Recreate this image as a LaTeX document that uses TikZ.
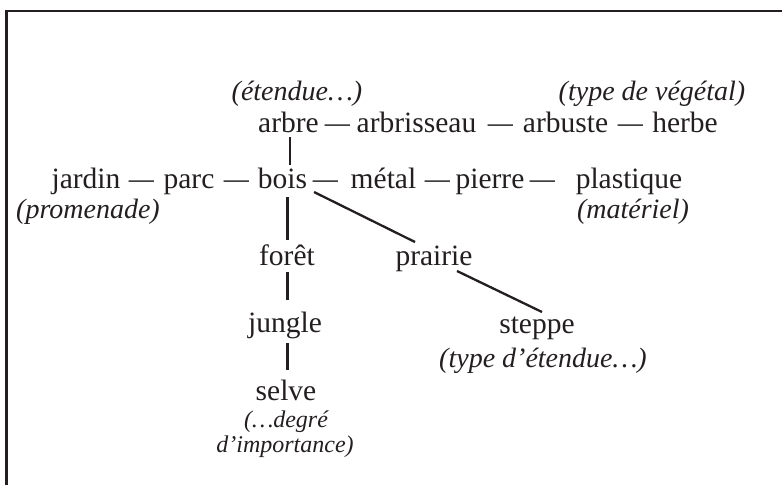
\documentclass[tikz,border=0pt]{standalone}
\usepackage{fontspec}
\setmainfont{Liberation Serif}
\usetikzlibrary{calc}
\definecolor{ink}{HTML}{231F20}
\tikzset{
  word/.style={anchor=base, inner sep=0pt, text=ink, font=\fontsize{29.5}{34}\selectfont},
  note/.style={anchor=base, inner sep=0pt, text=ink, font=\fontsize{28}{33}\selectfont\itshape},
  smallnote/.style={anchor=base, inner sep=0pt, text=ink, font=\fontsize{24}{28}\selectfont\itshape},
  link/.style={draw=ink, line width=2.3pt},
  frame/.style={draw=ink, line width=2.3pt}
}
\newcommand{\emd}{\scalebox{0.85}[1]{—}}
\begin{document}
\begin{tikzpicture}[x=1pt,y=-1pt]
\useasboundingbox (0,0) rectangle (782,485);
\draw[frame] (6.5,485) -- (6.5,11) -- (782,11);

% notes top
\node[note] (n1) at (297,100) {(étendue…)};
\node[note] (n2) at (652,100) {(type de végétal)};

% row 1
\node[word] (arbre) at (288.5,132) {arbre};
\node[word] (d1) at (337.5,132) {\emd};
\node[word] (arbrisseau) at (416.5,132) {arbrisseau};
\node[word] (d2) at (500.5,132) {\emd};
\node[word] (arbuste) at (565.5,132) {arbuste};
\node[word] (d3) at (630.5,132) {\emd};
\node[word] (herbe) at (685,132) {herbe};

% row 2
\node[word] (jardin) at (86,188) {jardin};
\node[word] (d4) at (141.5,188) {\emd};
\node[word] (parc) at (189,188) {parc};
\node[word] (d5) at (236.5,188) {\emd};
\node[word] (bois) at (282.5,188) {bois};
\node[word] (d6) at (325.5,188) {\emd};
\node[word] (metal) at (383.5,188) {métal};
\node[word] (d7) at (437.5,188) {\emd};
\node[word] (pierre) at (490,188) {pierre};
\node[word] (d8) at (542.5,188) {\emd};
\node[word] (plastique) at (629,188) {plastique};

\node[note] (n3) at (88,218) {(promenade)};
\node[note] (n4) at (633,218) {(matériel)};

% lower
\node[word] (foret) at (287,265) {forêt};
\node[word] (prairie) at (434,265) {prairie};
\node[word] (jungle) at (285,332) {jungle};
\node[word] (steppe) at (537,333) {steppe};
\node[note] (n5) at (543,367) {(type d’étendue…)};
\node[word] (selve) at (286,400) {selve};
\node[smallnote] (n6) at (286,427) {(…degré};
\node[smallnote] (n7) at (285,452) {d’importance)};

% connectors
\draw[link] ($(arbre.base)+(1.5,5)$) -- ($(bois.base)+(7.5,-23)$);
\draw[link] ($(bois.base)+(5,9)$) -- ($(foret.base)+(0.5,-25)$);
\draw[link] ($(bois.base)+(31.5,4)$) -- ($(prairie.base)+(-19,-23)$);
\draw[link] ($(prairie.base)+(23,6)$) -- ($(steppe.base)+(5,-21)$);
\draw[link] ($(foret.base)+(0.5,7)$) -- ($(jungle.base)+(2.5,-32)$);
\draw[link] ($(jungle.base)+(2.5,11)$) -- ($(selve.base)+(1.5,-30)$);
\end{tikzpicture}
\end{document}
